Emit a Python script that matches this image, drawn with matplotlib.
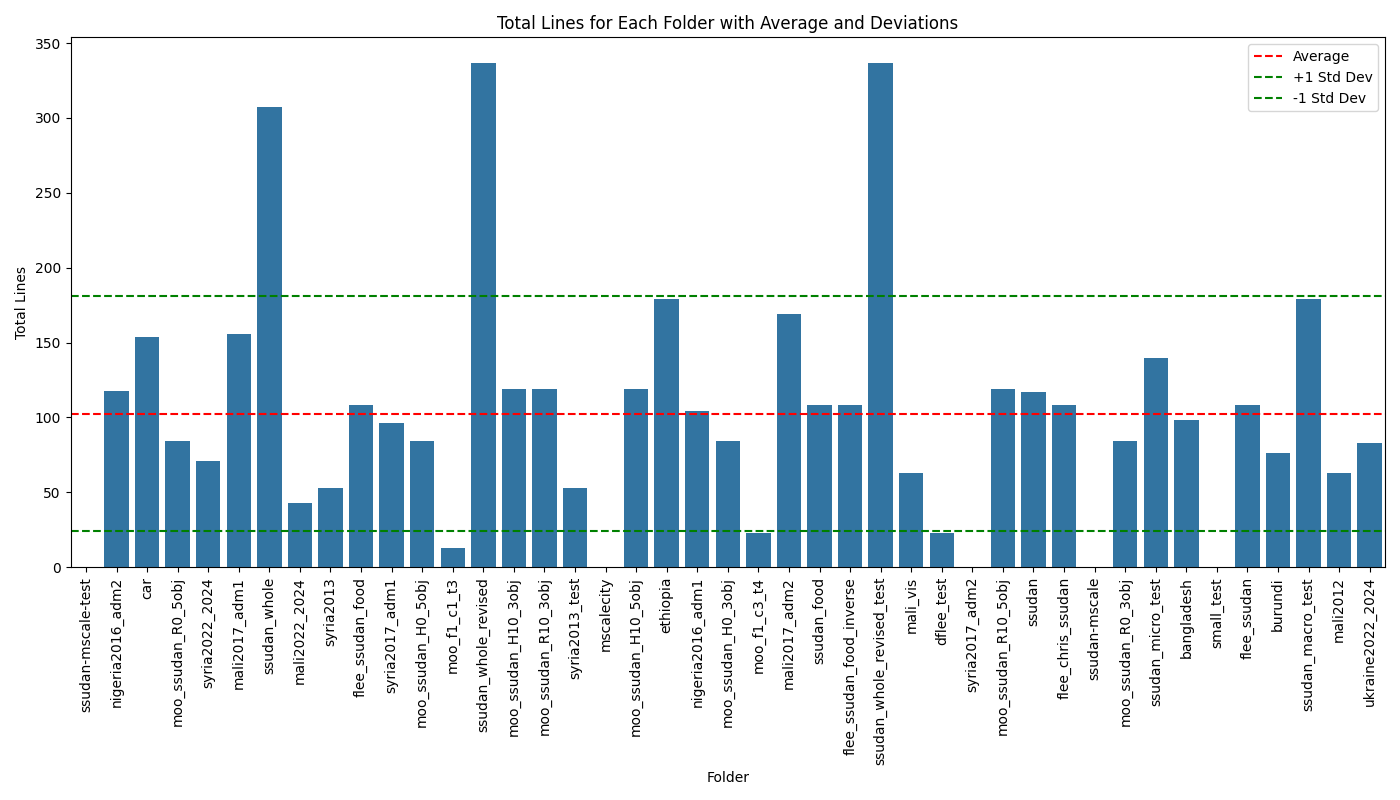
import numpy as np
import matplotlib
matplotlib.use('Agg')
import matplotlib.pyplot as plt

# Datos: carpetas y total de lineas
folders = ['ssudan-mscale-test', 'nigeria2016_adm2', 'car', 'moo_ssudan_R0_5obj',
           'syria2022_2024', 'mali2017_adm1', 'ssudan_whole', 'mali2022_2024',
           'syria2013', 'flee_ssudan_food', 'syria2017_adm1', 'moo_ssudan_H0_5obj',
           'moo_f1_c1_t3', 'ssudan_whole_revised', 'moo_ssudan_H10_3obj',
           'moo_ssudan_R10_3obj', 'syria2013_test', 'mscalecity', 'moo_ssudan_H10_5obj',
           'ethiopia', 'nigeria2016_adm1', 'moo_ssudan_H0_3obj', 'moo_f1_c3_t4',
           'mali2017_adm2', 'ssudan_food', 'flee_ssudan_food_inverse',
           'ssudan_whole_revised_test', 'mali_vis', 'dflee_test', 'syria2017_adm2',
           'moo_ssudan_R10_5obj', 'ssudan', 'flee_chris_ssudan', 'ssudan-mscale',
           'moo_ssudan_R0_3obj', 'ssudan_micro_test', 'bangladesh', 'small_test',
           'flee_ssudan', 'burundi', 'ssudan_macro_test', 'mali2012', 'ukraine2022_2024']
total_lines = [0, 118, 154, 84, 71, 156, 307, 43, 53, 108, 96, 84, 13, 337, 119, 119,
               53, 0, 119, 179, 104, 84, 23, 169, 108, 108, 337, 63, 23, 0, 119, 117,
               108, 0, 84, 140, 98, 0, 108, 76, 179, 63, 83]

avg = np.mean(total_lines)
std = np.std(total_lines)

fig, ax = plt.subplots(figsize=(14, 8), dpi=100)
x = np.arange(len(folders))
ax.bar(x, total_lines, width=0.8, color='#3274a1')

ax.axhline(avg, color='red', linestyle='--', label='Average')
ax.axhline(avg + std, color='green', linestyle='--', label='+1 Std Dev')
ax.axhline(avg - std, color='green', linestyle='--', label='-1 Std Dev')

ax.set_xticks(x)
ax.set_xticklabels(folders, rotation=90)
ax.set_xlim(-0.5, len(folders) - 0.5)
ax.set_xlabel('Folder')
ax.set_ylabel('Total Lines')
ax.set_title('Total Lines for Each Folder with Average and Deviations')
ax.legend(loc='upper right')

plt.tight_layout()
plt.savefig('out.png')
